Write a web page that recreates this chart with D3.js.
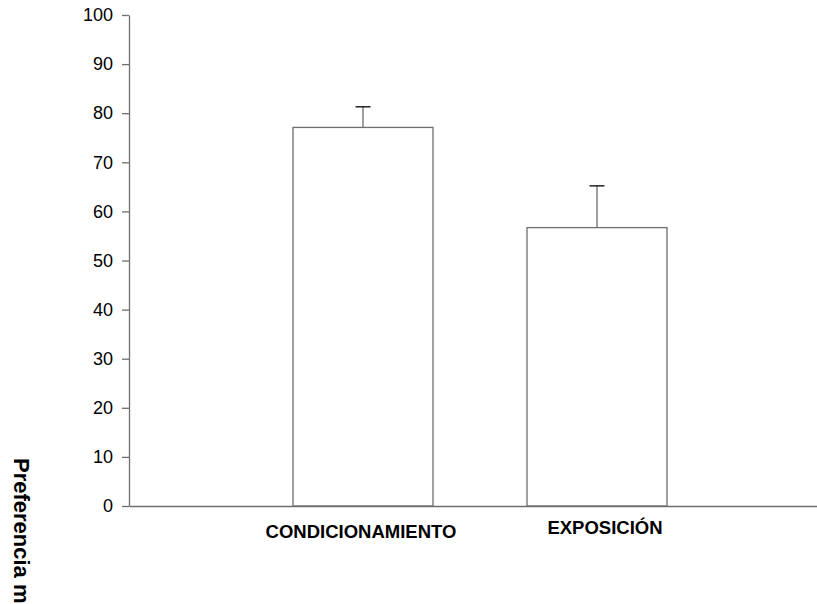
<!DOCTYPE html>
<html>
<head>
<meta charset="utf-8">
<script src="https://cdn.jsdelivr.net/npm/d3@7"></script>
<style>
  html, body { margin: 0; padding: 0; background: #fff; overflow: hidden; }
  svg { display: block; font-family: "Liberation Sans", Arial, sans-serif; }
</style>
</head>
<body>
<svg id="chart" width="817" height="604"></svg>
<script>
const categories = ["CONDICIONAMIENTO", "EXPOSICIÓN"];
const means = [77.1, 56.7];
const errors = [4.2, 8.5];
const yTicks = [0, 10, 20, 30, 40, 50, 60, 70, 80, 90, 100];
const yLabel = "Preferencia media (%)";

const svg = d3.select("#chart");
const x0 = 129, x1 = 831, yTop = 15, yBottom = 506;

const x = d3.scaleBand()
  .domain(categories)
  .range([x0, x1])
  .paddingInner(0.4017)
  .paddingOuter(0.7009);

const y = d3.scaleLinear().domain([0, 100]).range([yBottom, yTop]);

// Y axis
const yAxis = svg.append("g")
  .attr("transform", `translate(${x0},0)`)
  .call(d3.axisLeft(y).tickValues(yTicks).tickSize(7).tickPadding(9).tickSizeOuter(0));
yAxis.select(".domain").attr("stroke", "#6e6e6e").attr("stroke-width", 1.3);
yAxis.selectAll(".tick line").attr("stroke", "#6e6e6e").attr("stroke-width", 1.3);
yAxis.selectAll(".tick text")
  .attr("font-size", 18)
  .attr("fill", "#000")
  .attr("font-family", "Liberation Sans, Arial, sans-serif");

// Bars
svg.append("g").selectAll("rect")
  .data(categories)
  .join("rect")
  .attr("x", d => x(d))
  .attr("width", x.bandwidth())
  .attr("y", (d, i) => y(means[i]))
  .attr("height", (d, i) => y(0) - y(means[i]))
  .attr("fill", "#fff")
  .attr("stroke", "#6e6e6e")
  .attr("stroke-width", 1.3);

// Error bars
const eg = svg.append("g");
categories.forEach((c, i) => {
  const cx = x(c) + x.bandwidth() / 2;
  eg.append("line")
    .attr("x1", cx).attr("x2", cx)
    .attr("y1", y(means[i])).attr("y2", y(means[i] + errors[i]))
    .attr("stroke", "#6e6e6e").attr("stroke-width", 1.3);
  eg.append("line")
    .attr("x1", cx - 7.5).attr("x2", cx + 7.5)
    .attr("y1", y(means[i] + errors[i])).attr("y2", y(means[i] + errors[i]))
    .attr("stroke", "#000").attr("stroke-width", 1.3);
});

// X axis
const xAxis = svg.append("g")
  .attr("transform", `translate(0,${yBottom})`)
  .call(d3.axisBottom(x).tickSize(0).tickPadding(22).tickSizeOuter(0));
xAxis.select(".domain").attr("stroke", "#6e6e6e").attr("stroke-width", 1.3);
xAxis.selectAll(".tick text")
  .attr("font-size", 18.5)
  .attr("font-weight", "bold")
  .attr("fill", "#000")
  .attr("font-family", "Liberation Sans, Arial, sans-serif")
  .attr("dx", (d, i) => i === 1 ? 8 : -2)
  .attr("dy", (d, i) => i === 1 ? "0.31em" : "0.55em");

// Y axis label (rotated clockwise)
svg.append("text")
  .attr("transform", "translate(14,458) rotate(90)")
  .attr("text-anchor", "start")
  .attr("font-size", 22)
  .attr("font-weight", "bold")
  .attr("fill", "#000")
  .text(yLabel);
</script>
</body>
</html>
